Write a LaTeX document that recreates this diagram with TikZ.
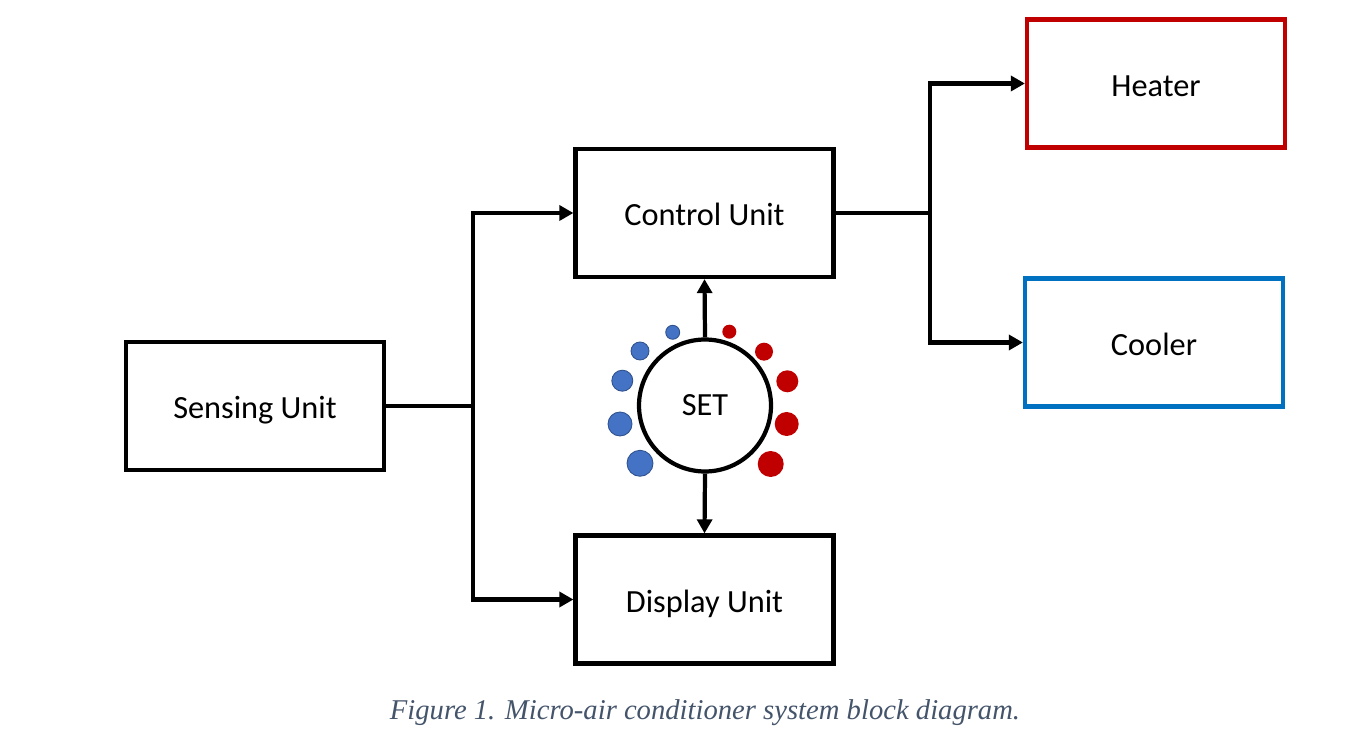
\documentclass[tikz,border=0pt]{standalone}
\usepackage{fontspec}
\setsansfont{Carlito}
\newfontfamily\captionfont{Liberation Serif}
\usetikzlibrary{arrows.meta,positioning}

\definecolor{heatred}{HTML}{C00000}
\definecolor{coolblue}{HTML}{0070C0}
\definecolor{dotblue}{HTML}{4472C4}
\definecolor{dotedge}{HTML}{2F528F}
\definecolor{capgray}{HTML}{44546A}

\tikzset{
  unit/.style={draw,line width=2.4pt,minimum width=5.16cm,minimum height=2.56cm,
    font=\sffamily\fontsize{18.4}{22}\selectfont,text height=14.5pt,text depth=0pt},
  conn/.style={line width=2.4pt},
  arr/.style={conn,-{Triangle[length=8pt,width=8.5pt]}},
  cold/.style={fill=dotblue,draw=dotedge,line width=0.5pt},
  hot/.style={fill=heatred}
}

\begin{document}
\begin{tikzpicture}[x=0.02cm,y=0.02cm]

    \useasboundingbox (0,0) rectangle (1358,750);

    \node[unit] (sensing) at (255,344) {Sensing Unit};
    \node[unit] (control) at (704.5,537) {Control Unit};
    \node[unit] (display) at (704.5,150.5) {Display Unit};
    \node[unit,draw=heatred] (heater) at (1156,666.5) {Heater};
    \node[unit,draw=coolblue] (cooler) at (1154,407.5) {Cooler};
    \node[draw,circle,line width=2.4pt,minimum size=2.64cm,
      font=\sffamily\fontsize{18.4}{22}\selectfont] (set) at (705,344.5) {SET};

    \coordinate (jl) at (473,344); % split left
    \coordinate (jr) at (930,537); % split right

    \draw[conn] (sensing.east) -- (jl);
    \draw[arr] (jl) |- (control.west);
    \draw[arr] (jl) |- (display.west);
    \draw[conn] (control.east) -- (jr);
    \draw[arr] (jr) |- (heater.west);
    \draw[arr] (jr) |- (cooler.west);
    \draw[arr] (set.north) -- (control.south);
    \draw[arr] (set.south) -- (display.north);

    \fill[cold] (672.7,417.7) circle (7); % cool side
    \fill[cold] (640,399) circle (9);
    \fill[cold] (622.3,369.3) circle (10.5);
    \fill[cold] (620,326) circle (12);
    \fill[cold] (640,286.7) circle (13);

    \fill[hot] (729.3,418.3) circle (7); % warm side
    \fill[hot] (764,398.3) circle (9);
    \fill[hot] (787.3,368.7) circle (11);
    \fill[hot] (786.7,326) circle (12);
    \fill[hot] (770.7,286) circle (13);

    \node[font=\captionfont\itshape\fontsize{16.3}{19}\selectfont,text=capgray] (caption) at (705,37)
      {Figure 1. Micro-air conditioner system block diagram.};

\end{tikzpicture}
\end{document}
